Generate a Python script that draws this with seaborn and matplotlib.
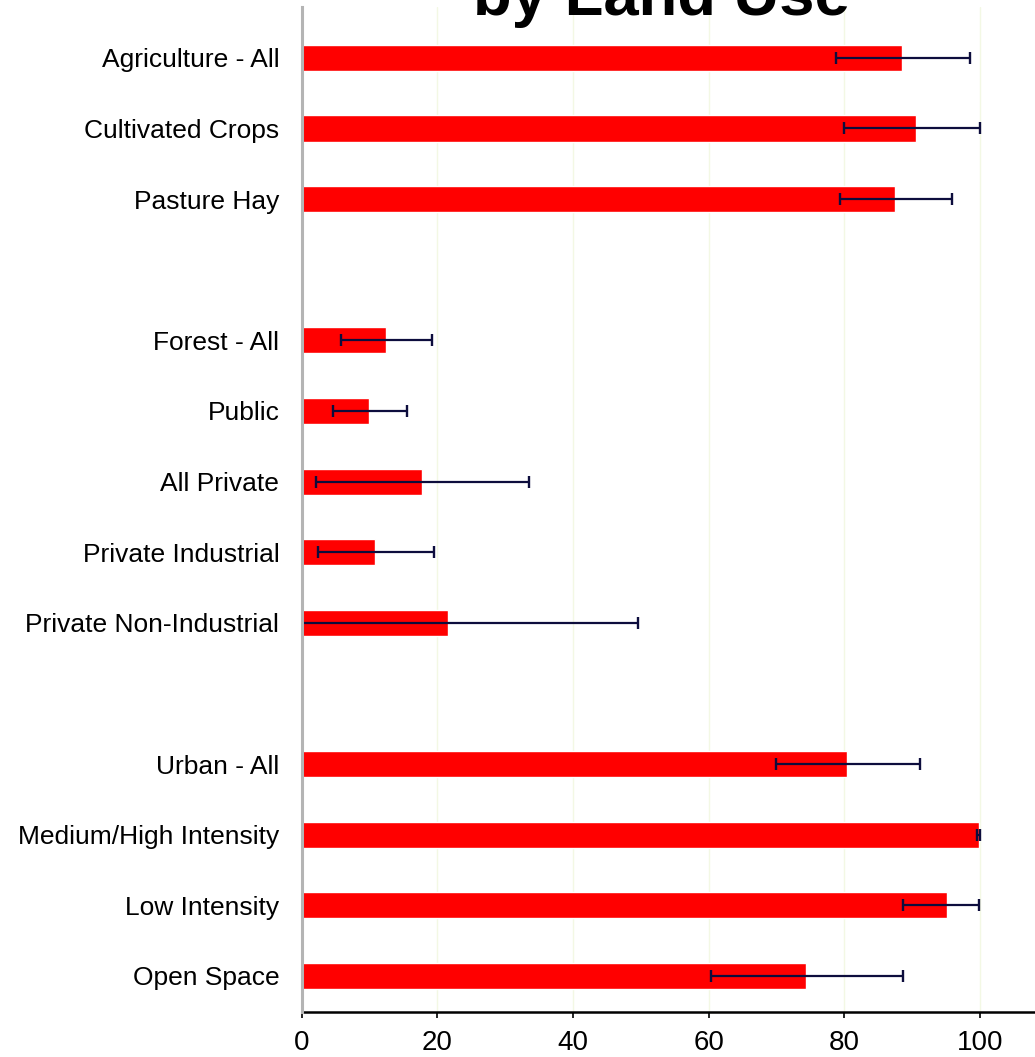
import matplotlib
matplotlib.use("Agg")
import matplotlib.pyplot as plt
import seaborn as sns
import pandas as pd

# Land use classes, top to bottom
categories = [
    "Agriculture - All", "Cultivated Crops", "Pasture Hay",
    "Forest - All", "Public", "All Private", "Private Industrial",
    "Private Non-Industrial",
    "Urban - All", "Medium/High Intensity", "Low Intensity", "Open Space",
]
# Estimated percentage and confidence bounds
percent = [88.5, 90.5, 87.4, 12.4, 10.0, 17.8, 10.9, 21.6, 80.4, 99.8, 95.1, 74.4]
ci_low = [78.8, 79.9, 79.4, 5.8, 4.7, 2.2, 2.5, 0.0, 70.0, 99.6, 88.6, 60.4]
ci_high = [98.5, 100.0, 95.8, 19.2, 15.5, 33.5, 19.6, 49.6, 91.1, 100.0, 99.9, 88.6]
x_ticks = [0, 20, 40, 60, 80, 100]

# Group order with blank spacer rows between the three groups
order = categories[:3] + [" "] + categories[3:8] + ["  "] + categories[8:]

df = pd.DataFrame({"category": categories, "percent": percent})

sns.set_theme(style="white")
plt.rcParams["font.family"] = ["Liberation Sans", "DejaVu Sans"]

fig = plt.figure(figsize=(10.35, 10.57), dpi=100)
ax = fig.add_axes([301.5 / 1035, 45 / 1057, 1 - 301.5 / 1035, (1012 - 7) / 1057])

sns.barplot(data=df, x="percent", y="category", order=order, orient="h",
            color="#ff0000", saturation=1, width=0.37, errorbar=None, ax=ax)

ypos = [order.index(c) for c in categories]
lower = [p - lo for p, lo in zip(percent, ci_low)]
upper = [hi - p for p, hi in zip(percent, ci_high)]
ax.errorbar(percent, ypos, xerr=[lower, upper], fmt="none", ecolor="#0d0d3d",
            elinewidth=1.6, capsize=4.5, capthick=1.7, zorder=4)

ax.set_xlim(0, (1035 - 301.5) / 6.785)
ax.set_ylim(13.51, -0.72)
ax.set_xticks(x_ticks)
ax.set_xticklabels([str(t) for t in x_ticks],
                   fontfamily=["Liberation Sans Narrow", "Liberation Sans"],
                   fontsize=20)
ax.set_xlabel("")
ax.set_ylabel("")

ax.set_axisbelow(True)
ax.xaxis.grid(True, color="#f3f8e4", linewidth=1.0)
ax.yaxis.grid(False)

for side in ("top", "right"):
    ax.spines[side].set_visible(False)
ax.spines["left"].set_color("#b4b4b4")
ax.spines["left"].set_linewidth(2.2)
ax.spines["left"].set_zorder(6)
ax.spines["bottom"].set_color("black")
ax.spines["bottom"].set_linewidth(1.8)

ax.tick_params(axis="x", bottom=True, direction="out", length=4, width=1.2,
               color="black", pad=9, labelcolor="black")
ax.tick_params(axis="y", left=False, length=0, labelsize=19, pad=16,
               labelcolor="black")

fig.text(661.5 / 1035, 1 - 15 / 1057, "by Land Use", ha="center", va="baseline",
         fontsize=45.6, fontweight="bold", color="black")

fig.savefig("out.png", dpi=100, facecolor="white")
